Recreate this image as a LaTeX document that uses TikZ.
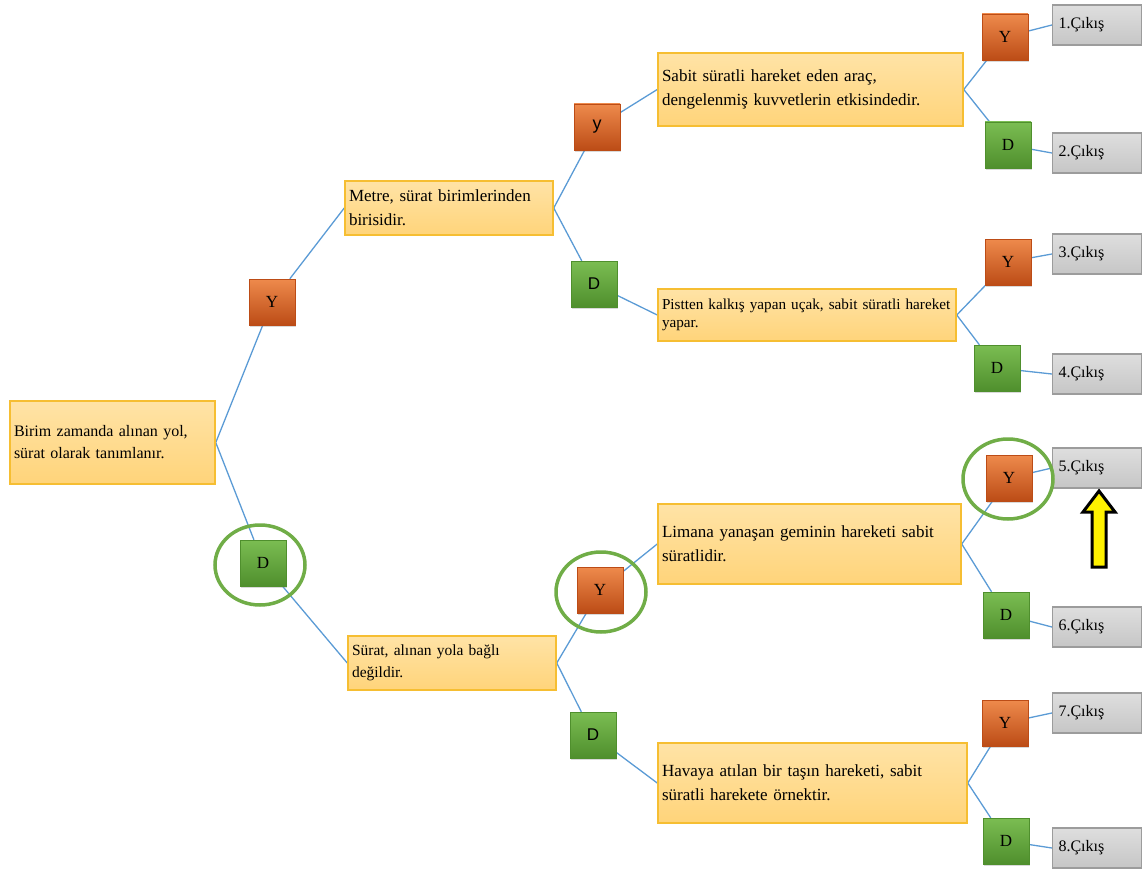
\documentclass[tikz,border=0pt]{standalone}
\usepackage{fontspec}
\setmainfont{Liberation Serif}
\setsansfont{Liberation Sans}
\usepackage{tikz}
\usetikzlibrary{backgrounds}
\usetikzlibrary{shadows}
\usetikzlibrary{shapes.geometric}

\definecolor{stmtlight}{HTML}{FFE3A6}
\definecolor{stmtfill}{HTML}{FFD47A}
\definecolor{stmtline}{HTML}{F6BE32}
\definecolor{yeslight}{HTML}{EE8A4C}
\definecolor{yesdark}{HTML}{BC4C16}
\definecolor{nolight}{HTML}{7BBD52}
\definecolor{nodark}{HTML}{4F8F2D}
\definecolor{exitlight}{HTML}{DEDEDE}
\definecolor{exitdark}{HTML}{C6C6C6}
\definecolor{exitline}{HTML}{9C9C9C}
\definecolor{linkblue}{HTML}{5B9BD5}
\definecolor{pickgreen}{HTML}{70AD47}

\begin{document}
\begin{tikzpicture}[x=1pt, y=-1pt,
    stmt/.style={rectangle, draw=stmtline, line width=1.5pt,
      top color=stmtlight, bottom color=stmtfill, align=left,
      inner sep=4pt, font=\fontsize{17}{24}\selectfont},
    yes/.style={rectangle, minimum size=46pt, inner sep=0pt,
      top color=yeslight, bottom color=yesdark, draw=yesdark,
      drop shadow={opacity=0.3, shadow xshift=1pt, shadow yshift=-2pt},
      font=\fontsize{17}{17}\selectfont},
    no/.style={yes, top color=nolight, bottom color=nodark, draw=nodark},
    exit/.style={rectangle, draw=exitline, line width=1.2pt,
      top color=exitlight, bottom color=exitdark, minimum width=89pt,
      minimum height=40pt, text width=77pt, align=left, inner sep=4pt,
      font=\fontsize{16}{16}\selectfont},
    link/.style={draw=linkblue, line width=1.3pt},
    pick/.style={draw=pickgreen, line width=3.5pt, ellipse,
      minimum width=90pt, minimum height=80pt}]

    \useasboundingbox (0,0) rectangle (1144,872);

    % statements
    \node [stmt, text width=197pt, minimum height=83pt,
      font=\fontsize{16}{22}\selectfont] (root) at (112.5,442.5)
    {Birim zamanda alınan yol,\\ sürat olarak tanımlanır.};
    \node [stmt, text width=200pt, minimum height=54pt] (metre) at (449,208)
    {Metre, sürat birimlerinden\\ birisidir.};
    \node [stmt, text width=200pt, minimum height=54pt,
      font=\fontsize{15.5}{22}\selectfont] (surat) at (452,663)
    {Sürat, alınan yola bağlı\\ değildir.};
    \node [stmt, text width=297pt, minimum height=73pt] (sabit) at (810.5,89.5)
    {Sabit süratli hareket eden araç,\\ dengelenmiş kuvvetlerin etkisindedir.};
    \node [stmt, text width=290pt, minimum height=52pt,
      font=\fontsize{15.2}{18}\selectfont] (pistten) at (807,315)
    {Pistten kalkış yapan uçak, sabit süratli hareket\\ yapar.};
    \node [stmt, text width=295pt, minimum height=80pt] (limana) at (809.5,544)
    {Limana yanaşan geminin hareketi sabit\\ süratlidir.};
    \node [stmt, text width=301pt, minimum height=80pt] (havaya) at (812.5,783)
    {Havaya atılan bir taşın hareketi, sabit\\ süratli harekete örnektir.};

    % answers
    \node [yes] (rootY) at (272,302) {Y};
    \node [no] (rootD) at (263,563) {D};
    \node [yes, font=\sffamily\fontsize{18}{18}\selectfont] (metreY) at (597,127) {y};
    \node [no, font=\sffamily\fontsize{17}{17}\selectfont] (metreD) at (594,284) {D};
    \node [yes] (suratY) at (600,590) {Y};
    \node [no, font=\sffamily\fontsize{17}{17}\selectfont] (suratD) at (593,735) {D};
    \node [yes] (sabitY) at (1005,37) {Y};
    \node [no] (sabitD) at (1008,145) {D};
    \node [yes] (pisY) at (1008,262) {Y};
    \node [no] (pisD) at (997,368) {D};
    \node [yes] (limY) at (1009,478) {Y};
    \node [no] (limD) at (1006,615) {D};
    \node [yes] (havY) at (1005,723) {Y};
    \node [no] (havD) at (1006,841) {D};

    % exits
    \foreach \n/\y in {1/25, 2/153, 3/254, 4/374, 5/468, 6/627, 7/713, 8/848}
      \node [exit] (out\n) at (1097,\y) {\n.Çıkış};

    \begin{scope}[on background layer]
      \draw [link] (root.east) -- (rootY) -- (metre.west);
      \draw [link] (root.east) -- (rootD) -- (surat.west);
      \draw [link] (metre.east) -- (metreY) -- (sabit.west);
      \draw [link] (metre.east) -- (metreD) -- (pistten.west);
      \draw [link] (surat.east) -- (suratY) -- (limana.west);
      \draw [link] (surat.east) -- (suratD) -- (havaya.west);
      \draw [link] (sabit.east) -- (sabitY) -- (out1.west);
      \draw [link] (sabit.east) -- (sabitD) -- (out2.west);
      \draw [link] (pistten.east) -- (pisY) -- (out3.west);
      \draw [link] (pistten.east) -- (pisD) -- (out4.west);
      \draw [link] (limana.east) -- (limY) -- (out5.west);
      \draw [link] (limana.east) -- (limD) -- (out6.west);
      \draw [link] (havaya.east) -- (havY) -- (out7.west);
      \draw [link] (havaya.east) -- (havD) -- (out8.west);
    \end{scope}

    % chosen path
    \node [pick] (pick1) at (260,565) {};
    \node [pick] (pick2) at (601,592) {};
    \node [pick] (pick3) at (1008,479) {};

    \draw [fill=yellow, line width=3pt, line join=miter]
    (1099,491) -- (1115,512) -- (1106,512) -- (1106,567)
    -- (1092,567) -- (1092,512) -- (1083,512) -- cycle;

\end{tikzpicture}
\end{document}
